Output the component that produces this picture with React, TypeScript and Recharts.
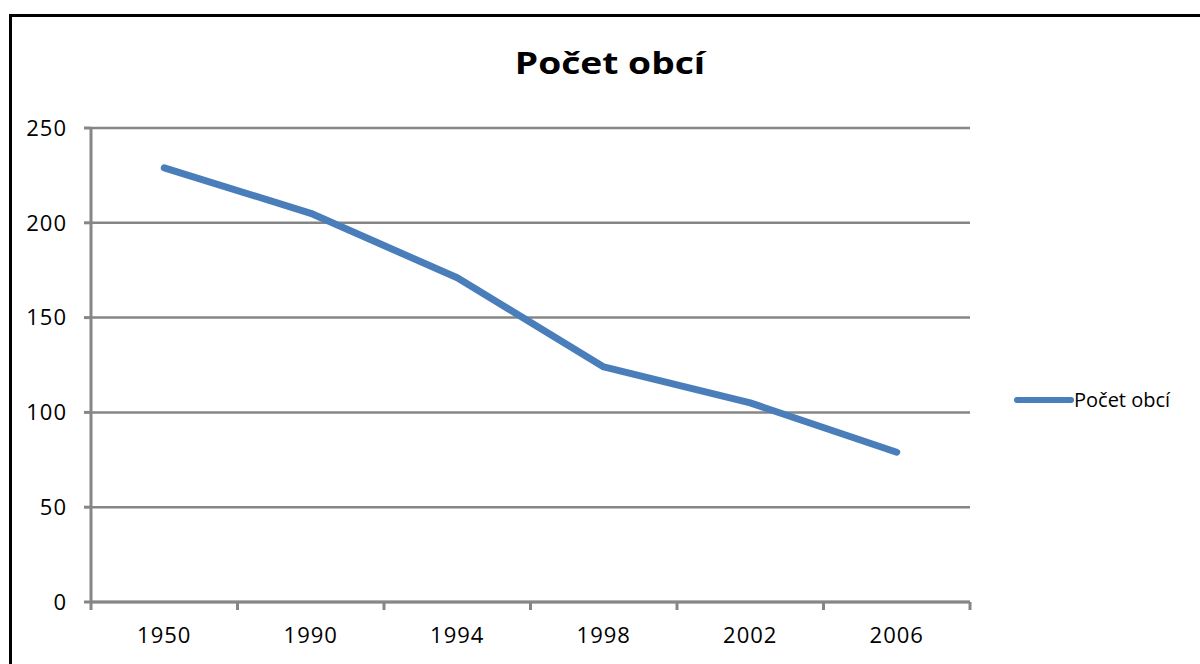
import { LineChart, Line, XAxis, YAxis, CartesianGrid } from "recharts"

const years = ["1950", "1990", "1994", "1998", "2002", "2006"]
const counts = [229, 205, 171, 124, 105, 79]
const yTicks = [0, 50, 100, 150, 200, 250]

const seriesName = "Počet obcí"
const font = "'Open Sans', sans-serif"
const axisColor = "#868686"
const lineColor = "#4a7ebb"

// points sit in the middle of each category slot, ticks on the slot borders
const data = years.map((year, i) => ({ x: i + 0.5, year, value: counts[i] }))
const xTicks = Array.from({ length: years.length * 2 + 1 }, (_, i) => i / 2)

function XTick(props: any) {
  const { x, y, payload } = props
  const v = payload.value as number
  if (Number.isInteger(v)) {
    return <line x1={x} y1={y} x2={x} y2={y + 8} stroke={axisColor} strokeWidth={3} />
  }
  const label = years[Math.floor(v)]
  return (
    <text x={x} y={y + 35} textAnchor="middle" dominantBaseline="middle" fontSize={22} letterSpacing={1} fontFamily={font} fill="#000">
      {label}
    </text>
  )
}

export default function App() {
  return (
    <div style={{ position: "fixed", left: 0, top: 0, width: 1200, height: 664, overflow: "hidden", background: "#fff" }}>
      <div
        style={{
          position: "absolute",
          left: 9,
          top: 14,
          width: 1300,
          height: 800,
          border: "3px solid #000",
          boxSizing: "border-box",
        }}
      />
      <div
        style={{
          position: "absolute",
          left: 0,
          top: 42,
          width: 1220,
          textAlign: "center",
          fontFamily: font,
          fontWeight: 700,
          fontSize: 31,
          lineHeight: "40px",
          transform: "scaleX(1.2)",
          transformOrigin: "610px 0",
        }}
      >
        {seriesName}
      </div>
      <div style={{ position: "absolute", left: 0, top: 0 }}>
        <LineChart width={1200} height={664} data={data} margin={{ top: 128, right: 230, bottom: 0, left: 0 }}>
          <CartesianGrid vertical={false} stroke={axisColor} strokeWidth={2.5} />
          <XAxis
            dataKey="x"
            type="number"
            domain={[0, years.length]}
            ticks={xTicks}
            interval={0}
            height={62}
            tickSize={0}
            tickMargin={0}
            tickLine={false}
            tick={<XTick />}
            axisLine={{ stroke: axisColor, strokeWidth: 3 }}
          />
          <YAxis
            width={91}
            domain={[0, 250]}
            ticks={yTicks}
            interval={0}
            tickSize={7}
            tickMargin={17}
            tickLine={{ stroke: axisColor, strokeWidth: 3 }}
            axisLine={{ stroke: axisColor, strokeWidth: 3 }}
            tick={{ fill: "#000", fontSize: 22, letterSpacing: 1, fontFamily: font }}
          />
          <Line
            dataKey="value"
            name={seriesName}
            stroke={lineColor}
            strokeWidth={7}
            strokeLinecap="round"
            strokeLinejoin="round"
            dot={false}
            activeDot={false}
            isAnimationActive={false}
          />
        </LineChart>
      </div>
      <div style={{ position: "absolute", left: 1014, top: 386, display: "flex", alignItems: "center", height: 28 }}>
        <svg width={60} height={28}>
          <line x1={3} y1={14} x2={57} y2={14} stroke={lineColor} strokeWidth={6} strokeLinecap="round" />
        </svg>
        <span style={{ fontFamily: font, fontSize: 20, lineHeight: "28px", color: "#000", whiteSpace: "nowrap" }}>
          {seriesName}
        </span>
      </div>
    </div>
  )
}
